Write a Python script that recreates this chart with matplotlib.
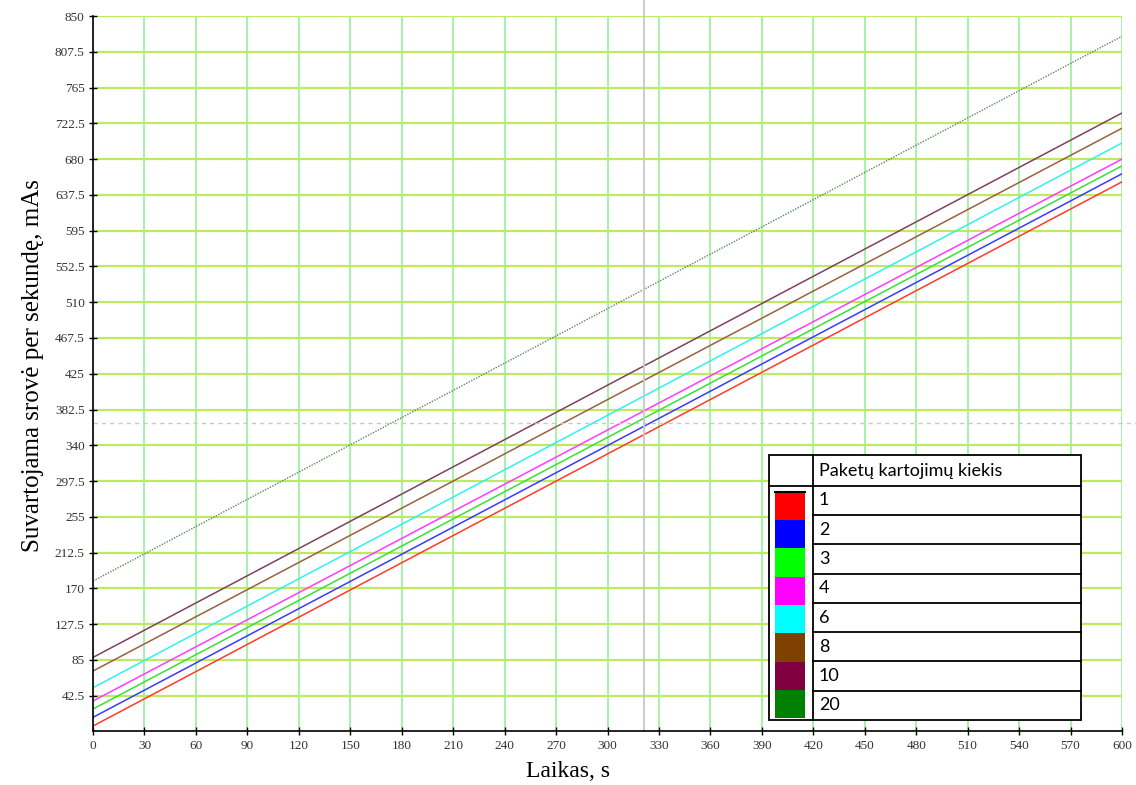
import matplotlib
matplotlib.use("Agg")
import matplotlib.pyplot as plt
from matplotlib.patches import Rectangle

# time axis end points, s
time = [0, 600]

# consumed current, mAs, at t=0 and t=600 for each repeat count
repeats = ["1", "2", "3", "4", "6", "8", "10", "20"]
current = [
    [6.5, 653.0],
    [16.8, 662.6],
    [26.7, 672.0],
    [36.2, 680.0],
    [52.0, 699.2],
    [71.8, 716.7],
    [88.0, 734.8],
    [178.7, 826.0],
]
colors = ["#ff0000", "#0000ff", "#00ff00", "#ff00ff",
          "#00ffff", "#804000", "#800040", "#008000"]
line_colors = ["#ff3a2a", "#3a3aff", "#3adf3a", "#ff3aff",
               "#30f0f0", "#9a6040", "#804060", "#5a8a5a"]

yticks = [42.5 * i for i in range(1, 21)]
ytick_labels = ["42.5", "85", "127.5", "170", "212.5", "255", "297.5", "340",
                "382.5", "425", "467.5", "510", "552.5", "595", "637.5", "680",
                "722.5", "765", "807.5", "850"]
xticks = list(range(0, 601, 30))

fig = plt.figure(figsize=(11.36, 7.85), dpi=100)
ax = fig.add_axes([0.0819, 0.0682, 0.9058, 0.9114])
ax.set_xlim(0, 600)
ax.set_ylim(0, 850)

for idx, vals in enumerate(current):
    if repeats[idx] == "20":
        ax.plot(time, vals, color=line_colors[idx], lw=1.0, ls=(0, (1, 1)))
    else:
        ax.plot(time, vals, color=line_colors[idx], lw=1.1)

ax.set_xticks(xticks)
ax.set_xticklabels([str(t) for t in xticks])
ax.set_yticks(yticks)
ax.set_yticklabels(ytick_labels)
ax.tick_params(direction="inout", length=6, width=1, labelsize=9.5,
               labelcolor="#333333", pad=3)
for lab in ax.get_xticklabels() + ax.get_yticklabels():
    lab.set_fontfamily("Liberation Serif")

ax.xaxis.grid(True, color="#98f098", lw=1.2)
ax.yaxis.grid(True, color="#bdea60", lw=1.6)
ax.set_axisbelow(True)
for s in ["top", "right"]:
    ax.spines[s].set_visible(False)
ax.spines["left"].set_linewidth(1.2)
ax.spines["bottom"].set_linewidth(1.2)

# cursor cross
ax.axvline(321, ymin=0, ymax=1.025, color="#c8c8c8", lw=1.3, clip_on=False)
ax.axhline(366, xmin=0, xmax=1.014, color="#c8c8c8", lw=1.0, ls=(0, (3, 3)),
           clip_on=False)

ax.set_xlabel("Laikas, s", fontfamily="Liberation Serif", fontsize=17)
ax.xaxis.set_label_coords(0.4616, -0.041)
ax.set_ylabel("Suvartojama srovė per sekundę, mAs", fontfamily="Liberation Serif",
              fontsize=18)
ax.yaxis.set_label_coords(-0.0476, 0.511)

# legend table
x0, x1, x2 = 394.2, 419.8, 576.0
ytop, yhead, ybot = 328.2, 291.8, 13.7
row_h = (yhead - ybot) / len(repeats)
ax.add_patch(Rectangle((x0, ybot), x2 - x0, ytop - ybot, facecolor="white",
                       edgecolor="black", lw=1.3, zorder=5))
ax.plot([x1, x1], [ybot, ytop], color="black", lw=1.3, zorder=6)
ax.plot([x0, x2], [yhead, yhead], color="black", lw=1.3, zorder=6)
ax.text(x1 + 3.5, (ytop + yhead) / 2, "Paketų kartojimų kiekis", fontfamily="Lato",
        fontsize=13, va="center", ha="left", zorder=7)
sw_top = 284.7
sw_h = (sw_top - 15.7) / len(repeats)
for i, r in enumerate(repeats):
    yb = yhead - (i + 1) * row_h
    if i < len(repeats) - 1:
        ax.plot([x1, x2], [yb, yb], color="black", lw=1.3, zorder=6)
    ax.text(x1 + 3.5, yb + row_h / 2, r, fontfamily="Lato", fontsize=13,
            va="center", ha="left", zorder=7)
    ax.add_patch(Rectangle((397.9, sw_top - (i + 1) * sw_h), 17.5, sw_h,
                           facecolor=colors[i], edgecolor="none", zorder=6))
ax.plot([397.9, 415.4], [sw_top, sw_top], color="black", lw=1.5, zorder=7)

fig.savefig("out.png", dpi=100)
